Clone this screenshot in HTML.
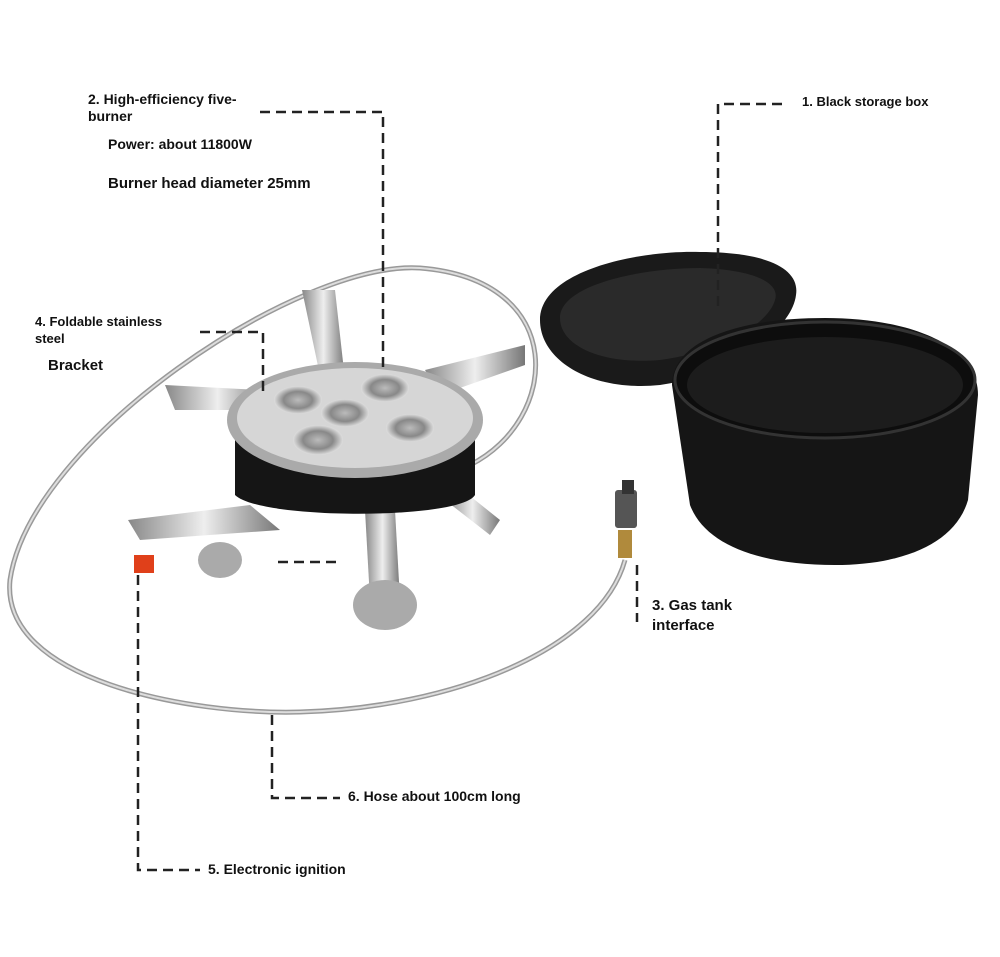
<!DOCTYPE html>
<html><head><meta charset="utf-8"><style>
html,body{margin:0;padding:0;background:#fff;}
body{width:1000px;height:957px;position:relative;overflow:hidden;font-family:"Liberation Sans",sans-serif;}
.t{position:absolute;font-weight:bold;color:#111;white-space:nowrap;}
svg{position:absolute;left:0;top:0;}
</style></head><body>
<svg width="1000" height="957" viewBox="0 0 1000 957">
<defs>
<linearGradient id="sil" x1="0" x2="1"><stop offset="0" stop-color="#888"/><stop offset=".5" stop-color="#eee"/><stop offset="1" stop-color="#777"/></linearGradient>
<radialGradient id="bur"><stop offset="0" stop-color="#bbb"/><stop offset=".6" stop-color="#888"/><stop offset="1" stop-color="#ddd"/></radialGradient>
</defs>
<!-- storage box lid -->
<path d="M540,320 C540,270 640,250 700,252 C770,252 800,270 796,295 C792,330 730,375 660,385 C590,392 540,360 540,320Z" fill="#1a1a1a"/>
<path d="M560,318 C560,285 640,268 700,268 C760,270 780,285 775,300 C768,325 720,352 660,360 C600,365 560,345 560,318Z" fill="#2a2a2a"/>
<!-- storage box bowl -->
<path d="M672,385 C672,340 740,318 825,318 C910,318 978,345 978,395 L968,500 C955,545 900,565 835,565 C760,565 705,545 690,505 Z" fill="#151515"/>
<ellipse cx="825" cy="380" rx="150" ry="58" fill="#0d0d0d" stroke="#333" stroke-width="3"/>
<ellipse cx="825" cy="385" rx="138" ry="48" fill="#1c1c1c"/>
<!-- hose -->
<path d="M470,465 C560,420 570,280 420,268 C300,260 30,440 10,580 C0,680 190,715 300,712 C450,708 600,650 625,560" fill="none" stroke="#999" stroke-width="5"/>
<path d="M470,465 C560,420 570,280 420,268 C300,260 30,440 10,580 C0,680 190,715 300,712 C450,708 600,650 625,560" fill="none" stroke="#ddd" stroke-width="2"/>
<!-- gas connector -->
<rect x="615" y="490" width="22" height="38" rx="3" fill="#555"/>
<rect x="622" y="480" width="12" height="14" fill="#333"/>
<rect x="618" y="530" width="14" height="28" fill="#b08a3c"/>
<!-- legs -->
<path d="M128,520 L250,505 L280,530 L140,540Z" fill="url(#sil)"/>
<rect x="134" y="555" width="20" height="18" fill="#e0401a"/>
<ellipse cx="220" cy="560" rx="22" ry="18" fill="#aaa"/>
<path d="M365,510 L395,510 L400,600 L370,600Z" fill="url(#sil)"/>
<ellipse cx="385" cy="605" rx="32" ry="25" fill="#aaa"/>
<path d="M450,480 L500,520 L490,535 L445,500Z" fill="url(#sil)"/>
<!-- pot supports -->
<path d="M165,385 L260,390 L270,410 L175,410Z" fill="url(#sil)"/>
<path d="M425,370 L525,345 L525,365 L440,395Z" fill="url(#sil)"/>
<path d="M302,290 L335,290 L345,380 L322,385Z" fill="url(#sil)"/>
<!-- stove body -->
<path d="M235,440 L475,440 L475,495 C460,520 260,520 235,495Z" fill="#151515"/>
<ellipse cx="355" cy="420" rx="128" ry="58" fill="#aaa"/>
<ellipse cx="355" cy="418" rx="118" ry="50" fill="#d6d6d6"/>
<ellipse cx="298" cy="400" rx="24" ry="14" fill="url(#bur)"/>
<ellipse cx="385" cy="388" rx="24" ry="14" fill="url(#bur)"/>
<ellipse cx="345" cy="413" rx="24" ry="14" fill="url(#bur)"/>
<ellipse cx="410" cy="428" rx="24" ry="14" fill="url(#bur)"/>
<ellipse cx="318" cy="440" rx="25" ry="15" fill="url(#bur)"/>
<!-- dashed leaders -->
<g fill="none" stroke="#222" stroke-width="2.5" stroke-dasharray="10,6">
<path d="M260,112 H383 V370"/>
<path d="M782,104 H718 V310"/>
<path d="M200,332 H263 V395"/>
<path d="M278,562 H340"/>
<path d="M637,565 V622"/>
<path d="M272,715 V798 H340"/>
<path d="M138,575 V870 H200"/>
</g>
</svg>
<div class="t" style="left:88px;top:91px;font-size:14px;line-height:17px;">2. High-efficiency five-<br>burner</div>
<div class="t" style="left:108px;top:136px;font-size:14px;">Power: about 11800W</div>
<div class="t" style="left:108px;top:175px;font-size:15px;">Burner head diameter 25mm</div>
<div class="t" style="left:802px;top:94px;font-size:13px;">1. Black storage box</div>
<div class="t" style="left:35px;top:313px;font-size:13px;line-height:17px;">4. Foldable stainless<br>steel</div>
<div class="t" style="left:48px;top:357px;font-size:15px;">Bracket</div>
<div class="t" style="left:652px;top:596px;font-size:15px;line-height:20px;">3. Gas tank<br>interface</div>
<div class="t" style="left:348px;top:788px;font-size:14px;">6. Hose about 100cm long</div>
<div class="t" style="left:208px;top:861px;font-size:14px;">5. Electronic ignition</div>
</body></html>
